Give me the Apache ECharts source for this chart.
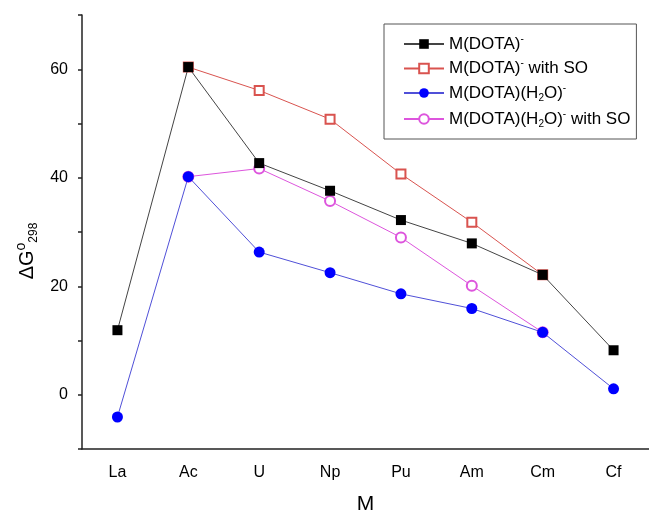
<!DOCTYPE html>
<html>
<head>
<meta charset="utf-8">
<script src="https://cdn.jsdelivr.net/npm/echarts@6/dist/echarts.min.js"></script>
<style>
  html, body { margin: 0; padding: 0; background: #fff; }
  #main { width: 649px; height: 512px; }
</style>
</head>
<body>
<div id="main"></div>
<script>
var myChart = echarts.init(document.getElementById('main'));

// categories (metal)
var metals = ['La', 'Ac', 'U', 'Np', 'Pu', 'Am', 'Cm', 'Cf'];

// ΔG°298 values
var dota = [11.9, 60.4, 42.7, 37.6, 32.2, 27.9, 22.1, 8.2];
var dotaSO = [null, 60.4, 56.1, 50.8, 40.7, 31.8, 22.1, null];
var dotaH2O = [-4.1, 40.2, 26.3, 22.5, 18.6, 15.9, 11.5, 1.1];
var dotaH2OSO = [null, 40.2, 41.7, 35.7, 29.0, 20.1, 11.5, null];

// y ticks
var yMin = -10, yMax = 70, yStep = 10, yLabelStep = 20;

var font = 'Liberation Sans, Arial, sans-serif';
var richSupSub = {
    sup: { fontSize: 10, fontFamily: font, color: '#000', padding: [0, 0, 10, 0] },
    sub: { fontSize: 10, fontFamily: font, color: '#000', padding: [10, 0, 0, 0] }
};

var names = {
    dota: 'M(DOTA){sup|-}',
    dotaSO: 'M(DOTA){sup|-} with SO',
    dotaH2O: 'M(DOTA)(H{sub|2}O){sup|-}',
    dotaH2OSO: 'M(DOTA)(H{sub|2}O){sup|-} with SO'
};

option = {
    backgroundColor: '#fff',
    animation: false,
    grid: {
        left: 82,
        right: 0,
        top: 15,
        bottom: 63,
        containLabel: false,
        outerBoundsMode: 'none'
    },
    legend: {
        orient: 'vertical',
        left: 384,
        top: 24,
        padding: [10, 6, 10, 19],
        itemGap: 6,
        itemWidth: 40,
        itemHeight: 12,
        borderColor: '#555',
        borderWidth: 1,
        backgroundColor: '#fff',
        data: [names.dota, names.dotaSO, names.dotaH2O, names.dotaH2OSO],
        textStyle: {
            fontFamily: font,
            fontSize: 17,
            color: '#000',
            rich: richSupSub
        }
    },
    xAxis: {
        type: 'category',
        data: metals,
        boundaryGap: true,
        name: 'M',
        nameLocation: 'middle',
        nameGap: 45,
        nameTextStyle: { fontFamily: font, fontSize: 21, color: '#000' },
        axisLine: { onZero: false, lineStyle: { color: '#222', width: 1.5 } },
        axisTick: { alignWithLabel: true, length: 5, lineStyle: { color: '#222', width: 1.5 } },
        axisLabel: { fontFamily: font, fontSize: 16, color: '#000', margin: 16 },
        splitLine: { show: false }
    },
    yAxis: {
        type: 'value',
        min: yMin,
        max: yMax,
        interval: yStep,
        name: 'ΔG{sup|o}{sub|298}',
        nameLocation: 'middle',
        nameRotate: 90,
        nameGap: 38,
        nameTextStyle: {
            fontFamily: font,
            fontSize: 20,
            color: '#000',
            padding: [0, 38, 0, 0],
            rich: {
                sup: { fontSize: 14, fontFamily: font, color: '#000', padding: [0, 0, 12, 0] },
                sub: { fontSize: 12, fontFamily: font, color: '#000', padding: [12, 0, 0, 0] }
            }
        },
        axisLine: { show: true, lineStyle: { color: '#222', width: 1.5 } },
        axisTick: { show: true, length: 4, lineStyle: { color: '#222', width: 1.5 } },
        axisLabel: {
            fontFamily: font,
            fontSize: 16,
            color: '#000',
            margin: 14,
            formatter: function (v) {
                return (v % yLabelStep === 0) ? String(v) : '';
            }
        },
        splitLine: { show: false }
    },
    // open-marker series first so the filled markers sit on top of them
    series: [
        {
            name: names.dotaSO,
            type: 'line',
            data: dotaSO,
            z: 2,
            symbol: 'emptyRect',
            symbolSize: 9,
            itemStyle: { color: '#d9534f', borderWidth: 1 },
            lineStyle: { color: '#d9534f', width: 1 }
        },
        {
            name: names.dotaH2OSO,
            type: 'line',
            data: dotaH2OSO,
            z: 2,
            symbol: 'emptyCircle',
            symbolSize: 10,
            itemStyle: { color: '#dd55dd', borderWidth: 1 },
            lineStyle: { color: '#dd55dd', width: 1 }
        },
        {
            name: names.dota,
            type: 'line',
            data: dota,
            z: 4,
            symbol: 'rect',
            symbolSize: 10,
            itemStyle: { color: '#000' },
            lineStyle: { color: '#444', width: 1 }
        },
        {
            name: names.dotaH2O,
            type: 'line',
            data: dotaH2O,
            z: 4,
            symbol: 'circle',
            symbolSize: 11,
            itemStyle: { color: '#0000ff' },
            lineStyle: { color: '#5050d8', width: 1 }
        }
    ]
};

if (option && typeof option === "object") {
    myChart.setOption(option, true);
}
</script>
</body>
</html>
